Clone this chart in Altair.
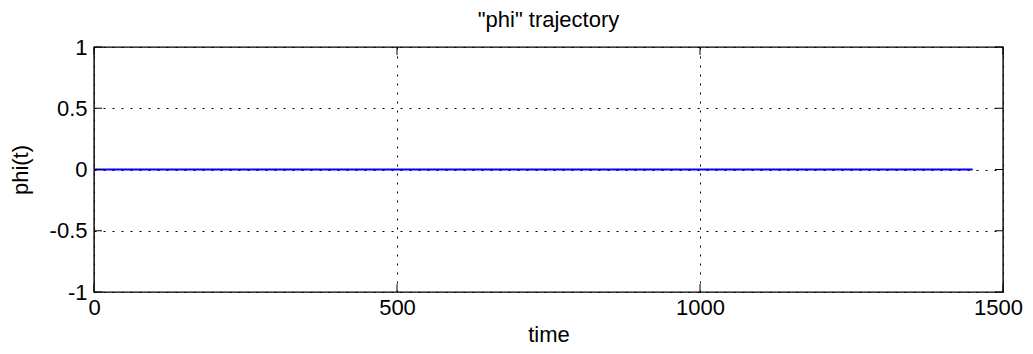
import altair as alt
import pandas as pd

# data
time = [0, 1450]
phi = [0, 0]
x_ticks = [0, 500, 1000, 1500]
y_ticks = [-1, -0.5, 0, 0.5, 1]

W, H = 909, 245
TICK = 8
FONT = "Liberation Sans"
FS = 22

line_df = pd.DataFrame({"time": time, "phi": phi})
xt_df = pd.DataFrame({"time": x_ticks})
yt_df = pd.DataFrame({"phi": y_ticks})

xscale = alt.Scale(domain=[0, 1500], nice=False, zero=False)
yscale = alt.Scale(domain=[-1, 1], nice=False, zero=False)

xaxis = alt.Axis(values=x_ticks, title="time", grid=True, ticks=False, domain=False,
                 labelExpr="'' + datum.value", labelFlush=False, labelOverlap=False,
                 labelOffset={"condition": {"test": "datum.value === 1500", "value": -5},
                              "value": 0},
                 labelPadding=5, titlePadding=6)
yaxis = alt.Axis(values=y_ticks, title="phi(t)", grid=True, ticks=False, domain=False,
                 labelExpr="'' + datum.value", labelFlush=False, labelOverlap=False,
                 labelPadding=7, titlePadding=17)

X = alt.X("time:Q", scale=xscale, axis=xaxis)
Y = alt.Y("phi:Q", scale=yscale, axis=yaxis)

line = alt.Chart(line_df).mark_line(color="#0000ff", strokeWidth=2).encode(x=X, y=Y)

xt_bottom = alt.Chart(xt_df).mark_rule(color="black", strokeWidth=1).encode(
    x=X, y=alt.value(H), y2=alt.value(H - TICK))
xt_top = alt.Chart(xt_df).mark_rule(color="black", strokeWidth=1).encode(
    x=X, y=alt.value(0), y2=alt.value(TICK))
yt_left = alt.Chart(yt_df).mark_rule(color="black", strokeWidth=1).encode(
    y=Y, x=alt.value(0), x2=alt.value(TICK))
yt_right = alt.Chart(yt_df).mark_rule(color="black", strokeWidth=1).encode(
    y=Y, x=alt.value(W), x2=alt.value(W - TICK))

chart = alt.layer(line, xt_bottom, xt_top, yt_left, yt_right).properties(
    width=W, height=H,
    background="white",
    title=alt.TitleParams('"phi" trajectory', fontSize=FS, font=FONT,
                          fontWeight="normal", color="black", offset=4, anchor="middle"),
    autosize=alt.AutoSizeParams(type="none"),
    padding={"left": 86, "top": 39, "right": 22, "bottom": 54},
).configure_view(stroke="#000000", strokeWidth=1.4).configure_axis(
    gridColor="black", gridOpacity=1, gridDash=[2, 7], gridWidth=1,
    labelFont=FONT, labelFontSize=FS, labelColor="black",
    titleFont=FONT, titleFontSize=FS, titleColor="black", titleFontWeight="normal",
)

chart.save("out.html", embed_options={"renderer": "svg", "actions": False})
